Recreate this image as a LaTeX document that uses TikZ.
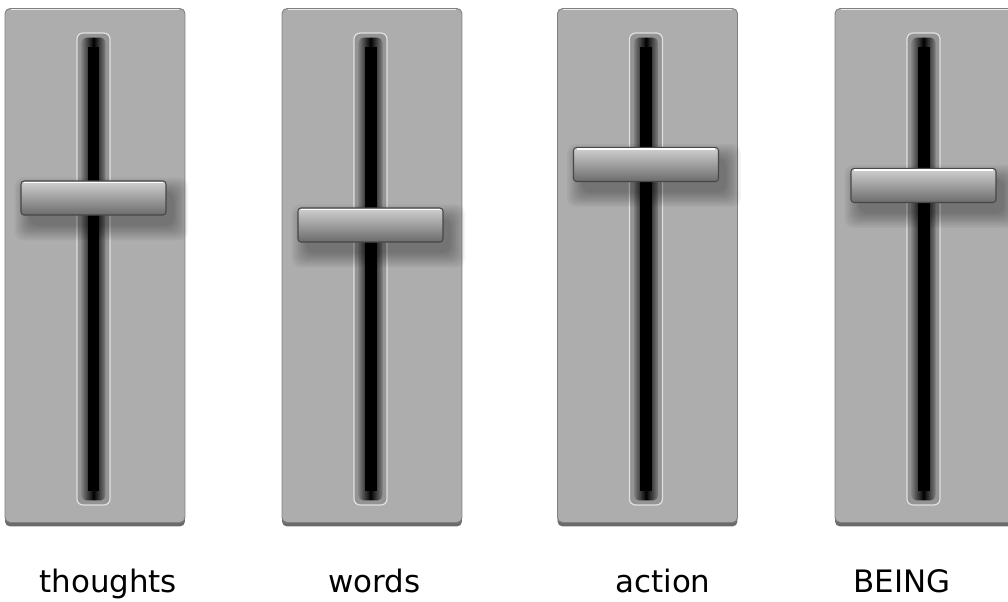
\documentclass[tikz,border=0pt]{standalone}
\usepackage{fontspec}
\setmainfont{DejaVu Sans}

\tikzset{
	panelbase/.style={fill=black!58, rounded corners=0.1cm, minimum width=3.6cm, minimum height=10.36cm, inner sep=0pt},
	panel/.style={draw=black!50, line width=0.5pt, fill=black!32, rounded corners=0.1cm, minimum width=3.6cm, minimum height=10.28cm, inner sep=0pt},
	groove/.style={draw=black!12, line width=0.7pt, fill=black!42, rounded corners=0.12cm, minimum width=0.66cm, minimum height=9.44cm, inner sep=0pt},
	slot/.style={left color=black!50, right color=black!50, middle color=black, rounded corners=0.1cm, minimum width=0.48cm, minimum height=9.26cm, inner sep=0pt},
	core/.style={fill=black, minimum width=0.24cm, minimum height=8.9cm, inner sep=0pt},
	knob/.style={top color=black!18, middle color=black!37, bottom color=black!58, draw=black!72, line width=0.6pt, rounded corners=0.06cm, minimum width=2.9cm, minimum height=0.68cm, inner sep=0pt},
	softshade/.style={fill=black, opacity=0.035, rounded corners=5pt},
	word/.style={anchor=base west, inner sep=0pt, font=\fontsize{17.6}{21}\selectfont}
}

\begin{document}
\begin{tikzpicture}[x=0.02cm, y=-0.02cm]
	\useasboundingbox (0,0) rectangle (1008,602);
	\foreach \px/\ky/\lx/\txt [count=\i] in {95/198/39/thoughts, 372/225/328/words, 647.5/164.5/615/action, 925/185.5/853/BEING}{
		\node[panelbase] (base\i) at (\px,267.5) {};
		\node[panel] (panel\i) at (\px,265.5) {};
		\draw[white!92!black, line width=0.9pt] ([xshift=0.12cm,yshift=-0.03cm]panel\i.north west) -- ([xshift=-0.12cm,yshift=-0.03cm]panel\i.north east);
		\node[groove] (groove\i) at (\px-1.5,269) {};
		\node[slot] (slot\i) at (groove\i) {};
		\node[core] (core\i) at (groove\i) {};
		\foreach \s in {0,...,9}
			\fill[softshade] (\px-66-\s*1.6,\ky-6-\s*1.6) rectangle (\px+79+\s*1.6,\ky+28+\s*1.6);
		\node[knob] (knob\i) at (\px-1.5,\ky) {};
		\draw[white, line width=1pt] ([xshift=0.08cm,yshift=-0.04cm]knob\i.north west) -- ([xshift=-0.08cm,yshift=-0.04cm]knob\i.north east);
		\node[word] (label\i) at (\lx,592) {\txt};
	}
\end{tikzpicture}
\end{document}
